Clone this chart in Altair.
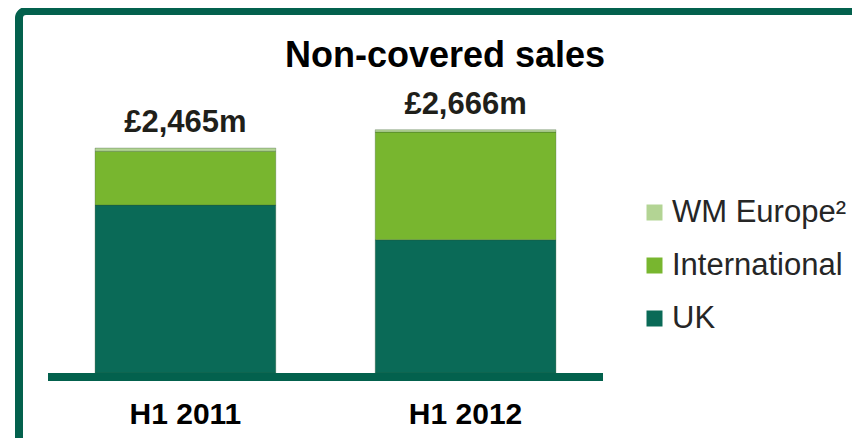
import altair as alt
import pandas as pd

periods = ["H1 2011", "H1 2012"]
series = ["WM Europe²", "International", "UK"]
uk = [1840, 1460]
international = [590, 1180]
wm_europe = [35, 26]
totals = [2465, 2666]
total_labels = ["£2,465m", "£2,666m"]
colors = ["#b3d494", "#78b62f", "#0a6a57"]

rows = []
for i, p in enumerate(periods):
    rows.append({"period": p, "series": "UK", "value": uk[i], "ord": 0})
    rows.append({"period": p, "series": "International", "value": international[i], "ord": 1})
    rows.append({"period": p, "series": "WM Europe²", "value": wm_europe[i], "ord": 2})
df = pd.DataFrame(rows)
tot = pd.DataFrame({"period": periods, "total": totals, "label": total_labels})

FONT = "Liberation Sans"
H = 365

xscale = alt.Scale(domain=periods, range=[40, 595], paddingInner=0.355, paddingOuter=0.168)
yscale = alt.Scale(domain=[0, 4000])

frame = alt.Chart(pd.DataFrame({"a": [0]})).mark_rect(
    fillOpacity=0, stroke="#03614d", strokeWidth=8, cornerRadius=7
).encode(x=alt.value(11), x2=alt.value(1200), y=alt.value(3), y2=alt.value(1200))

bars = alt.Chart(df).mark_bar(stroke="#2f4f2a", strokeWidth=0.6, strokeOpacity=0.5).encode(
    x=alt.X("period:N", scale=xscale, sort=periods,
            axis=alt.Axis(labelAngle=0, labelFontSize=30, labelFontWeight="bold", labelFont=FONT,
                          labelColor="#000000", labelPadding=26, domain=False, ticks=False, title=None)),
    y=alt.Y("value:Q", scale=yscale, stack="zero", axis=None),
    color=alt.Color("series:N", scale=alt.Scale(domain=series, range=colors),
                    legend=alt.Legend(orient="none", legendX=631, legendY=189, title=None,
                                      symbolType="square", symbolSize=256, symbolStrokeWidth=0,
                                      labelFontSize=31, labelFont=FONT, labelColor="#262626",
                                      labelOffset=2, rowPadding=21, padding=0, labelLimit=300)),
    order=alt.Order("ord:Q"),
)

baseline = alt.Chart(pd.DataFrame({"a": [0]})).mark_rule(color="#03614d", strokeWidth=8).encode(
    x=alt.value(40), x2=alt.value(595), y=alt.value(369)
)

labels = alt.Chart(tot).mark_text(
    font=FONT, fontSize=31, fontWeight="bold", color="#1f1f1a", baseline="alphabetic", dy=-16
).encode(
    x=alt.X("period:N", scale=xscale, sort=periods),
    y=alt.Y("total:Q", scale=yscale),
    text="label:N",
)

title = alt.Chart(pd.DataFrame({"t": ["Non-covered sales"]})).mark_text(
    font=FONT, fontSize=36, fontWeight="bold", color="#000000", baseline="alphabetic", align="center"
).encode(x=alt.value(437), y=alt.value(59), text="t:N")

chart = alt.layer(frame, bars, baseline, labels, title).properties(
    width=844, height=H,
    padding={"left": 0, "top": 0, "right": 0, "bottom": 65},
    autosize=alt.AutoSizeParams(type="none"),
).configure_view(strokeWidth=0)

chart.save("out.html", embed_options={"renderer": "svg", "actions": False})
